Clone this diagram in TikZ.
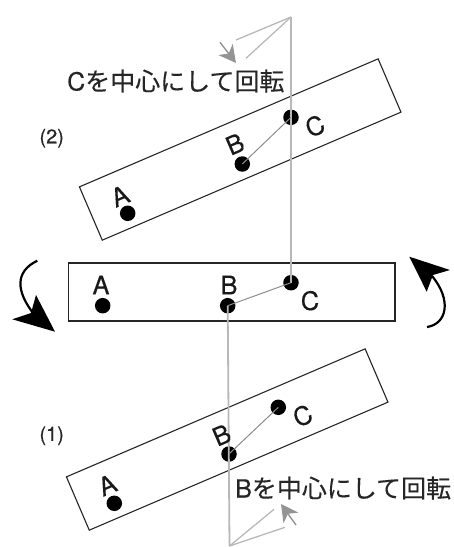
\documentclass[tikz,border=0pt]{standalone}
\usepackage{fontspec}
\setmainfont{TeX Gyre Heros}[FakeBold=0.25]
\newfontfamily\cjkjp{Noto Sans CJK JP}[FakeBold=0.25]
\usetikzlibrary{arrows.meta}
\definecolor{guide}{gray}{0.72}
\definecolor{tipgray}{gray}{0.58}
\tikzset{
  x=1pt,y=-1pt,
  bar/.style={draw=black!85,line width=1.1pt,minimum width=325pt,minimum height=58pt,inner sep=0pt,outer sep=0pt},
  dot/.style={circle,fill=black,inner sep=0pt,minimum size=15.5pt,outer sep=0pt},
  letter/.style={font=\fontsize{25.5}{25.5}\selectfont,inner sep=0pt,text=black!90},
  caption/.style={font=\fontsize{25}{25}\selectfont,inner sep=0pt,text=black!85},
  numlabel/.style={font=\fontsize{20}{20}\selectfont,inner sep=0pt,text=black!85},
  link/.style={draw=black!45,line width=1pt},
  axisthick/.style={draw=guide,line width=2.8pt},
  axisthin/.style={draw=guide,line width=1.8pt},
  fan/.style={draw=guide,line width=1.3pt},
  turn/.style={draw=tipgray,line width=1.4pt,-{Stealth[length=17pt,width=18pt,inset=5pt]}},
  swing/.style={draw=black,line width=2.2pt},
  swinghead/.style={fill=black},
}
\begin{document}
\begin{tikzpicture}
\useasboundingbox (0,0) rectangle (454,547);
% bars
\node[bar,rotate=23.2] (topbar) at (240.2,149.5) {};
\node[bar,minimum width=326.5pt] (midbar) at (231.7,292) {};
\node[bar,rotate=23.2] (lowbar) at (227.2,439.5) {};
% free ends of guide lines
\coordinate (topapex) at (291,17);
\coordinate (lowapex) at (229.5,546);
\coordinate (topfanA) at (236,40);
\coordinate (topfanB) at (246,58.3);
\coordinate (lowfanA) at (274,509.3);
\coordinate (lowfanB) at (285,527.3);
\coordinate (topturnS) at (220,42.3);
\coordinate (topturnE) at (236,63);
\coordinate (lowturnS) at (296,525);
\coordinate (lowturnE) at (281,504);
% dots
\node[dot] (mA) at (102.7,305.7) {};
\node[dot] (mB) at (227.7,305.7) {};
\node[dot] (mC) at (291,282.7) {};
\node[dot] (tA) at (127.7,213.3) {};
\node[dot] (tB) at (242.3,164) {};
\node[dot] (tC) at (291,117.3) {};
\node[dot] (lA) at (114.3,503.3) {};
\node[dot] (lB) at (229,454) {};
\node[dot] (lC) at (278.3,407.3) {};
% guides
\draw[axisthick] (topapex) -- (mC.center);
\draw[axisthin] (mB.center) -- (lowapex);
\draw[fan] (topapex) -- (topfanA);
\draw[fan] (topapex) -- (topfanB);
\draw[fan] (lowapex) -- (lowfanA);
\draw[fan] (lowapex) -- (lowfanB);
\draw[turn] (topturnS) -- (topturnE);
\draw[turn] (lowturnS) -- (lowturnE);
% links
\draw[link] (mB.center) -- (mC.center);
\draw[link] (tB.center) -- (tC.center);
\draw[link] (lB.center) -- (lC.center);
% letters
\node[letter] (mAt) at (101,285) {A};
\node[letter] (mBt) at (229,285) {B};
\node[letter] (mCt) at (310,300.7) {C};
\node[letter,rotate=23.2] (tAt) at (120,196) {A};
\node[letter,rotate=23.2] (tBt) at (235,144) {B};
\node[letter,rotate=23.2] (tCt) at (315,126) {C};
\node[letter,rotate=23.2] (lAt) at (107.3,485) {A};
\node[letter,rotate=23.2] (lBt) at (221.7,435) {B};
\node[letter,rotate=23.2] (lCt) at (302.7,415.7) {C};
% captions
\node[caption,anchor=west] (capC) at (67,81) {C{\cjkjp を中心にして回転}};
\node[caption,anchor=west] (capB) at (235,488) {B{\cjkjp を中心にして回転}};
\node[numlabel] (num2) at (51.7,138.3) {(2)};
\node[numlabel] (num1) at (51.7,435.7) {(1)};
% big rotation arrows
\coordinate (leftS) at (37.3,260.7);
\coordinate (leftT) at (55,331.7);
\coordinate (rightS) at (427,327);
\coordinate (rightT) at (409.3,256.7);
\draw[swing] (leftS) .. controls (14,272) and (17,292) .. (33,313);
\fill[swinghead] (leftT) -- (12.3,319.3) -- (31,313) -- (36,295) -- cycle;
\draw[swing] (rightS) .. controls (447,324) and (452,300) .. (432,276);
\fill[swinghead] (rightT) -- (450,270) -- (433,275) -- (426.7,291.7) -- cycle;
\end{tikzpicture}
\end{document}
